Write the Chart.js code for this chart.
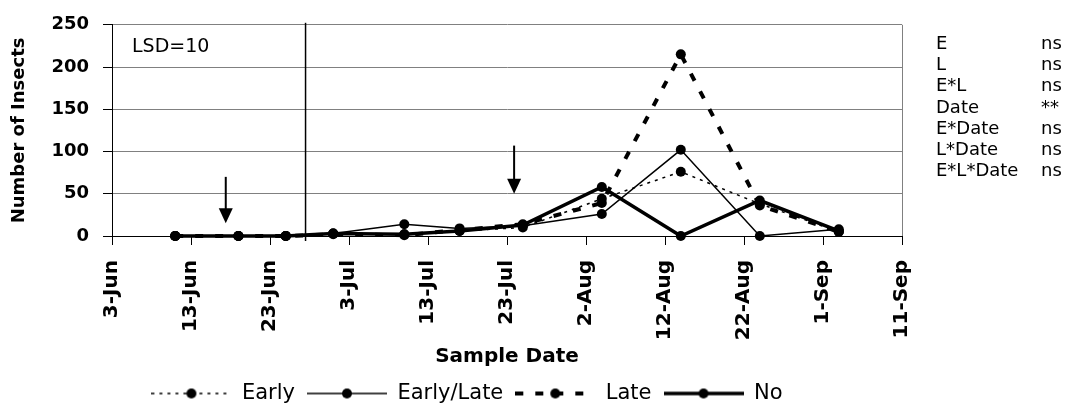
<!DOCTYPE html>
<html>
<head>
<meta charset="utf-8">
<script src="https://cdn.jsdelivr.net/npm/chart.js@4.4.1/dist/chart.umd.min.js"></script>
<style>
  html,body{margin:0;padding:0;background:#fff}
  #wrap{width:1074px;height:406px}
</style>
</head>
<body>
<div id="wrap"><canvas id="insects" width="1074" height="406"></canvas></div>
<script>
// sample dates and insect counts per spray timing
const xTickLabels=['3-Jun','13-Jun','23-Jun','3-Jul','13-Jul','23-Jul','2-Aug','12-Aug','22-Aug','1-Sep','11-Sep'];
const sampleDates=['11-Jun','19-Jun','25-Jun','1-Jul','10-Jul','17-Jul','25-Jul','4-Aug','14-Aug','24-Aug','3-Sep'];
const early=[0,0,0,3,2,6,10,44,76,38,5];
const earlyLate=[0,0,0,3,14,9,12,26,102,0,8];
const late=[0,0,0,2,1,7,14,39,215,36,5];
const noSpray=[0,0,0,3,2,6,13,58,0,42,6];
const seriesNames=['Early','Early/Late','Late','No'];
const yTicks=[0,50,100,150,200,250];
const effects=['E','L','E*L','Date','E*Date','L*Date','E*L*Date'];
const significance=['ns','ns','ns','**','ns','ns','ns'];
const lsdText='LSD=10';
// spray arrows (days after 3-Jun, count at tail, count at head) and season split
const sprayArrows=[[14.4,70,15],[50.9,107,50]];
const splitDay=24.5;

const monthStart={Jun:0,Jul:30,Aug:61,Sep:92};
const dayOf=s=>{const [d,m]=s.split('-');return monthStart[m]+Number(d)-3;};
const pts=vals=>vals.map((v,i)=>({x:dayOf(sampleDates[i]),y:v}));

const SANS='"DejaVu Sans", sans-serif';
const PAD={left:32,right:172,top:18,bottom:-8};
const PLOT_BOTTOM=236;
const styles=[
  {width:1.5,dash:[3,5]},
  {width:1.5,dash:[]},
  {width:4,dash:[8,12]},
  {width:3.5,dash:[]}
];

function sample(st){
  const c=document.createElement('canvas');c.width=80;c.height=14;
  const g=c.getContext('2d');
  g.strokeStyle='#000';g.lineWidth=st.width;g.setLineDash(st.dash);
  g.beginPath();g.moveTo(0,7);g.lineTo(80,7);g.stroke();
  g.setLineDash([]);g.fillStyle='#000';g.beginPath();g.arc(40,7,5,0,Math.PI*2);g.fill();
  return c;
}
const legendSamples=styles.map(sample);

const extras={
  id:'extras',
  afterDatasetsDraw(chart){
    const {ctx,chartArea:a,scales:{x,y}}=chart;
    ctx.save();
    ctx.strokeStyle='#000';ctx.fillStyle='#000';
    // season split line
    const sx=x.getPixelForValue(splitDay);
    ctx.lineWidth=1.5;ctx.beginPath();ctx.moveTo(sx,a.top-2);ctx.lineTo(sx,a.bottom+5);ctx.stroke();
    // spray arrows
    sprayArrows.forEach(([d,from,to])=>{
      const ax=x.getPixelForValue(d),y0=y.getPixelForValue(from),y1=y.getPixelForValue(to);
      ctx.lineWidth=2;ctx.beginPath();ctx.moveTo(ax,y0);ctx.lineTo(ax,y1-14);ctx.stroke();
      ctx.beginPath();ctx.moveTo(ax-7,y1-15);ctx.lineTo(ax+7,y1-15);ctx.lineTo(ax,y1);ctx.closePath();ctx.fill();
    });
    ctx.font='19px '+SANS;ctx.textBaseline='middle';ctx.textAlign='left';
    ctx.fillText(lsdText,a.left+20,a.top+22);
    ctx.font='18px '+SANS;
    effects.forEach((e,i)=>{
      const ty=44+i*21.3;
      ctx.fillText(e,936,ty);
      ctx.fillText(significance[i],1041,ty);
    });
    ctx.restore();
  }
};

const mk=(label,vals,i)=>({
  label,data:pts(vals),borderColor:'#000',backgroundColor:'#000',
  borderWidth:styles[i].width,borderDash:styles[i].dash,
  pointRadius:5,pointHoverRadius:5,pointBackgroundColor:'#000',pointBorderWidth:0,
  tension:0,clip:false,fill:false
});

new Chart(document.getElementById('insects'),{
  type:'line',
  data:{datasets:[
    mk(seriesNames[0],early,0),
    mk(seriesNames[1],earlyLate,1),
    mk(seriesNames[2],late,2),
    mk(seriesNames[3],noSpray,3)
  ]},
  options:{
    responsive:false,animation:false,devicePixelRatio:1,
    layout:{padding:PAD},
    plugins:{
      tooltip:{enabled:false},
      legend:{
        position:'bottom',
        labels:{
          usePointStyle:true,pointStyleWidth:80,color:'#000',padding:12,
          font:{family:SANS,size:21},
          generateLabels:chart=>chart.data.datasets.map((ds,i)=>({
            text:ds.label,pointStyle:legendSamples[i],datasetIndex:i,
            fillStyle:'#000',strokeStyle:'#000',lineWidth:0,hidden:false
          }))
        }
      }
    },
    scales:{
      x:{
        type:'linear',min:dayOf(xTickLabels[0]),max:dayOf(xTickLabels[xTickLabels.length-1]),
        afterFit:s=>{s.height=406-PAD.bottom-PLOT_BOTTOM-s.chart.legend.height;},
        ticks:{stepSize:10,autoSkip:false,minRotation:90,maxRotation:90,padding:15,color:'#000',
          font:{family:SANS,size:20,weight:'bold'},
          callback:(v,i)=>xTickLabels[i]},
        grid:{drawOnChartArea:true,tickLength:9,tickColor:'#000',
          color:c=>c.tick&&c.tick.value===100?'#808080':'rgba(0,0,0,0)'},
        border:{color:'#000',width:1},
        title:{display:true,text:'Sample Date',color:'#000',
          font:{family:SANS,size:20,weight:'bold'},padding:{top:0,bottom:2}}
      },
      y:{
        min:yTicks[0],max:yTicks[yTicks.length-1],
        afterFit:s=>{s.width=112-PAD.left;},
        afterBuildTicks:s=>{s.ticks=yTicks.map(v=>({value:v}));},
        ticks:{padding:14,color:'#000',font:{family:SANS,size:18,weight:'bold'}},
        grid:{tickLength:9,tickColor:'#000',
          color:c=>c.tick&&c.tick.value===0?'rgba(0,0,0,0)':'#808080'},
        border:{color:'#000',width:1},
        title:{display:true,text:'Number of Insects',color:'#000',
          font:{family:SANS,size:18,weight:'bold'},padding:{top:-23,bottom:0}}
      }
    }
  },
  plugins:[extras]
});
</script>
</body>
</html>
